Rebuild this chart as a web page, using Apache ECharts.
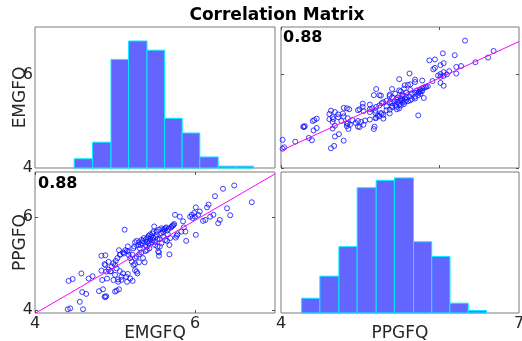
<!DOCTYPE html>
<html>
<head>
<meta charset="utf-8">
<script src="https://cdn.jsdelivr.net/npm/echarts@6/dist/echarts.min.js"></script>
<style>
  html, body { margin: 0; padding: 0; background: #fff; }
  #chart { width: 522px; height: 341px; }
</style>
</head>
<body>
<div id="chart"></div>
<script>
const pairs = [
  [4.41,4.02],[4.44,4.04],[4.60,4.02],[4.56,4.18],[4.59,4.39],[4.64,4.35],[4.42,4.63],[4.47,4.67],
  [4.58,4.79],[4.72,4.73],[4.67,4.68],[4.80,4.41],[4.85,4.45],[4.87,4.29],[4.89,4.30],[4.88,4.28],
  [5.00,4.40],[5.02,4.42],[5.05,4.45],[5.04,4.66],[4.98,4.65],[4.84,4.65],[4.90,4.68],[4.89,4.83],
  [4.92,4.87],[4.96,4.94],[4.83,4.85],[4.87,4.99],[4.88,4.97],[4.83,5.17],[4.88,5.18],[4.92,5.04],
  [4.98,5.01],[5.01,5.06],[5.03,5.12],[5.00,4.97],[5.02,4.90],[5.06,4.84],[5.06,5.19],[5.05,5.29],
  [5.07,5.20],[5.10,5.24],[5.11,5.22],[5.13,5.29],[5.15,5.27],[5.12,5.73],[5.16,5.37],[5.17,5.26],
  [5.17,5.19],[5.19,5.12],[5.21,5.04],[5.22,5.19],[5.23,4.97],[5.25,4.99],[5.25,4.86],[5.27,4.83],
  [5.28,4.79],[5.22,4.63],[5.19,4.68],[5.15,4.61],[5.14,4.72],[5.16,4.78],[5.10,4.79],[5.08,4.72],
  [5.23,5.33],[5.24,5.37],[5.25,5.46],[5.27,5.49],[5.29,5.40],[5.30,5.46],[5.31,5.33],[5.32,5.40],
  [5.34,5.44],[5.35,5.49],[5.38,5.40],[5.40,5.37],[5.42,5.43],[5.43,5.49],[5.44,5.53],[5.45,5.58],
  [5.46,5.46],[5.47,5.51],[5.48,5.56],[5.49,5.80],[5.50,5.40],[5.51,5.58],[5.52,5.62],[5.53,5.53],
  [5.54,5.26],[5.55,5.17],[5.55,5.24],[5.56,5.37],[5.58,5.44],[5.58,5.65],[5.60,5.69],[5.60,5.73],
  [5.62,5.74],[5.63,5.76],[5.64,5.78],[5.65,5.71],[5.66,5.63],[5.67,5.75],[5.68,5.40],[5.68,5.20],
  [5.69,5.55],[5.70,5.78],[5.71,5.80],[5.72,5.82],[5.73,5.83],[5.74,5.85],[5.75,6.05],[5.76,5.56],
  [5.77,5.60],[5.78,5.63],[5.81,6.01],[5.83,5.69],[5.85,5.91],[5.86,5.78],[5.88,5.69],[5.89,5.49],
  [5.94,6.01],[5.96,6.05],[5.97,5.98],[5.99,6.09],[6.00,6.01],[6.01,6.21],[6.01,5.62],[6.04,6.05],
  [6.06,6.12],[6.10,5.92],[6.13,5.94],[6.15,6.21],[6.17,6.27],[6.19,6.01],[6.23,6.05],[6.25,6.45],
  [6.29,5.87],[6.31,5.94],[6.35,6.61],[6.40,6.19],[6.44,6.04],[6.49,6.68],[6.71,6.32],
  [5.33,5.51],[5.36,5.55],[5.39,5.53],[5.40,5.47],[5.41,5.56],[5.42,5.60],[5.44,5.63],[5.47,5.65],
  [5.48,5.69],[5.43,5.33],[5.38,5.27],[5.33,5.24],[5.30,5.20],[5.27,5.15],[5.25,5.12],[5.30,5.03],
  [5.35,5.12],[5.37,5.03],[5.40,5.29],[5.50,5.47],[5.53,5.37],[5.56,5.53],[5.60,5.58],[5.63,5.51],
  [5.65,5.49],[5.58,5.76],[5.55,5.73],[5.52,5.69],[4.95,4.84],[4.94,4.83],[5.00,4.76],[5.04,4.61],
  [5.08,4.65]
];

// histogram bins (edges) and counts
const emgfqEdges = [4.49, 4.72, 4.95, 5.17, 5.40, 5.62, 5.84, 6.06, 6.29, 6.51, 6.73];
const emgfqCounts = [5, 14, 59, 69, 64, 27, 19, 6, 1, 1];
const ppgfqEdges = [4.26, 4.49, 4.73, 4.96, 5.20, 5.43, 5.67, 5.90, 6.13, 6.36, 6.59];
const ppgfqCounts = [6, 15, 27, 51, 54, 55, 29, 23, 4, 1];

// least-squares lines as drawn in the panels
const fitPonE = [[4, 3.93], [7, 6.93]];
const fitEonP = [[4, 4.37], [7, 6.69]];

const corrText = '0.88';
const tickVals = [4, 6];
const varNames = ['EMGFQ', 'PPGFQ'];

const FONT = 'DejaVu Sans';
const TXT = '#262626';
const BORDER = '#7a7a7a';

const chart = echarts.init(document.getElementById('chart'));

const gridBox = (left, top, width) => ({
  left, top, width, height: 141,
  outerBoundsMode: 'none',
  show: true, borderColor: BORDER, borderWidth: 1, backgroundColor: '#fff'
});

// axis with only inward ticks (no labels)
const tickAxis = (gi, position, min, max, showTicks) => ({
  type: 'value', gridIndex: gi, position, min, max,
  axisLine: { show: false },
  splitLine: { show: false },
  axisTick: { show: showTicks, inside: true, length: 3, customValues: tickVals, lineStyle: { color: '#555', width: 1 } },
  axisLabel: { show: false }
});

const withLabels = (ax, labels, name, nameGap, margin) => Object.assign(ax, {
  axisLabel: { show: true, customValues: labels, color: TXT, fontFamily: FONT, fontSize: 16, margin },
  name, nameLocation: 'middle', nameGap, nameMoveOverlap: false,
  nameTextStyle: { color: TXT, fontFamily: FONT, fontSize: 17 }
});

const histSeries = (xi, yi, edges, counts) => ({
  type: 'custom', xAxisIndex: xi, yAxisIndex: yi,
  data: counts.map((c, i) => [edges[i], edges[i + 1], c]),
  encode: { x: [0, 1], y: 2 },
  renderItem: (params, api) => {
    const p0 = api.coord([api.value(0), 0]);
    const p1 = api.coord([api.value(1), api.value(2)]);
    return {
      type: 'rect',
      shape: { x: p0[0], y: p1[1], width: p1[0] - p0[0], height: p0[1] - p1[1] },
      style: { fill: '#6464ff', stroke: '#00f0ff', lineWidth: 1 }
    };
  }
});

const scatterSeries = (xi, yi, data) => ({
  type: 'scatter', xAxisIndex: xi, yAxisIndex: yi, data,
  symbol: 'circle', symbolSize: 5,
  itemStyle: { color: 'rgba(0,0,0,0)', borderColor: '#1010ff', borderWidth: 1 },
  z: 3
});

const lineSeries = (xi, yi, data) => ({
  type: 'line', xAxisIndex: xi, yAxisIndex: yi, data,
  symbol: 'none', lineStyle: { color: '#ff00ff', width: 1 }, z: 4, silent: true
});

const option = {
  animation: false,
  grid: [
    gridBox(35, 27, 240),   // 0 TL
    gridBox(281, 27, 238),  // 1 TR
    gridBox(35, 172, 240),  // 2 BL
    gridBox(281, 172, 238)  // 3 BR
  ],
  xAxis: [
    tickAxis(0, 'bottom', 4, 7, false),
    tickAxis(0, 'top', 4, 7, false),
    tickAxis(1, 'bottom', 4, 7, true),
    tickAxis(1, 'top', 4, 7, true),
    withLabels(tickAxis(2, 'bottom', 4, 7, true), [4, 6], varNames[0], 12, 3),
    tickAxis(2, 'top', 4, 7, true),
    withLabels(tickAxis(3, 'bottom', 4, 7, false), [4, 7], varNames[1], 12, 3),
    tickAxis(3, 'top', 4, 7, false)
  ],
  yAxis: [
    withLabels(tickAxis(0, 'left', 4, 7.03, false), [4, 6], varNames[0], 6, 2),
    tickAxis(0, 'right', 4, 7.03, false),
    { type: 'value', gridIndex: 0, min: 0, max: 76.6, show: false },
    tickAxis(1, 'left', 4, 7, true),
    tickAxis(1, 'right', 4, 7, true),
    withLabels(tickAxis(2, 'left', 3.94, 6.97, true), [4, 6], varNames[1], 6, 2),
    tickAxis(2, 'right', 3.94, 6.97, true),
    tickAxis(3, 'left', 4, 7, false),
    tickAxis(3, 'right', 4, 7, false),
    { type: 'value', gridIndex: 3, min: 0, max: 57.4, show: false }
  ],
  series: [
    histSeries(0, 2, emgfqEdges, emgfqCounts),
    lineSeries(2, 3, fitEonP),
    scatterSeries(2, 3, pairs.map(([e, p]) => [p, e])),
    lineSeries(4, 5, fitPonE),
    scatterSeries(4, 5, pairs.map(([e, p]) => [e, p])),
    histSeries(6, 9, ppgfqEdges, ppgfqCounts)
  ],
  graphic: [
    { type: 'text', x: 277, y: 16, style: { text: 'Correlation Matrix', textAlign: 'center', textVerticalAlign: 'middle', font: 'bold 17px "DejaVu Sans"', fill: '#000' } },
    { type: 'text', x: 283, y: 38, z: 10, style: { text: corrText, textAlign: 'left', textVerticalAlign: 'middle', font: 'bold 16px "DejaVu Sans"', fill: '#000' } },
    { type: 'text', x: 38, y: 184, z: 10, style: { text: corrText, textAlign: 'left', textVerticalAlign: 'middle', font: 'bold 16px "DejaVu Sans"', fill: '#000' } }
  ]
};

chart.setOption(option);
</script>
</body>
</html>
